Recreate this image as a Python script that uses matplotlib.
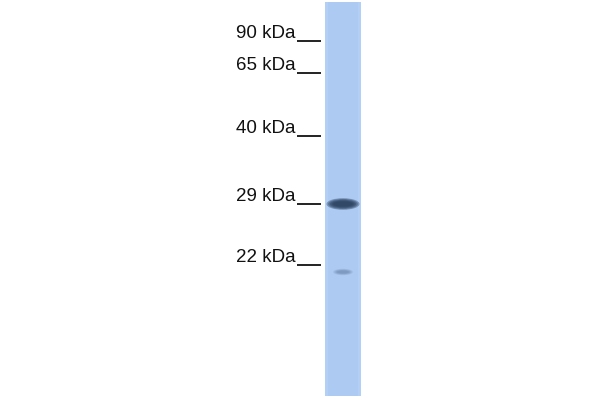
import matplotlib
matplotlib.use("Agg")
import matplotlib.pyplot as plt
from matplotlib.patches import Rectangle, Ellipse

# marker ladder (label, y pixel of the underline)
markers = ["90 kDa", "65 kDa", "40 kDa", "29 kDa", "22 kDa"]
marker_y = [41, 73, 136, 204, 265]

# bands seen in the lane: (y centre, width, height, darkness)
band_y = [204, 272]
band_w = [33, 20]
band_h = [9, 5]
band_alpha = [1.0, 0.2]

fig = plt.figure(figsize=(6, 4), dpi=100)
ax = fig.add_axes([0, 0, 1, 1])
ax.set_xlim(0, 600)
ax.set_ylim(400, 0)
ax.axis("off")

# the lane
lane_x0, lane_x1, lane_top, lane_bot = 325, 361, 2, 396
ax.add_patch(Rectangle((lane_x0, lane_top), lane_x1 - lane_x0, lane_bot - lane_top,
                       facecolor="#b3cff6", edgecolor="none"))
ax.add_patch(Rectangle((lane_x0 + 3, lane_top), lane_x1 - lane_x0 - 6, lane_bot - lane_top,
                       facecolor="#adcaf3", edgecolor="none"))

# bands, soft edges by stacking ellipses
lane_mid = (lane_x0 + lane_x1) / 2
for y, w, h, a in zip(band_y, band_w, band_h, band_alpha):
    for k in range(5):
        ax.add_patch(Ellipse((lane_mid, y), w * (1 - 0.1 * k), h * (1.3 - 0.18 * k),
                             facecolor="#263c5a", edgecolor="none", alpha=a * 0.38))

for lab, y in zip(markers, marker_y):
    ax.text(296, y - 3, lab, ha="right", va="baseline", fontsize=13.5,
            family="Liberation Sans", color="#111111")
    ax.plot([297, 321], [y, y], color="#111111", lw=1.3, solid_capstyle="butt")

fig.savefig("out.png", dpi=100)
